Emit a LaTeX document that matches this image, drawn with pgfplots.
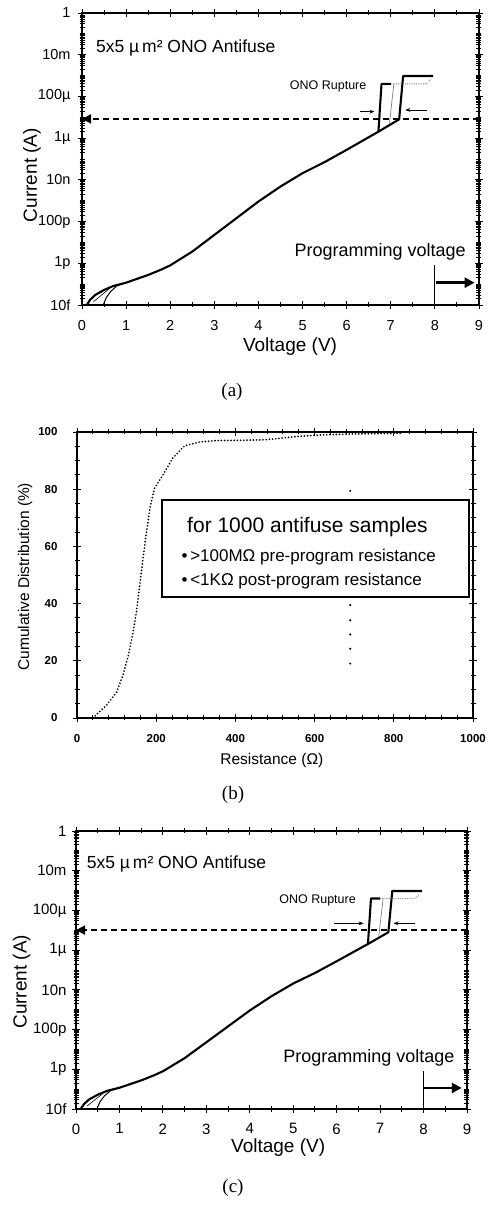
\documentclass[border=0pt]{standalone}
\usepackage{fontspec}
\setmainfont{Liberation Sans}
\newfontfamily\capfont{Liberation Serif}
\usepackage{pgfplots}
\usepackage{pgfplotstable}
\pgfplotsset{compat=1.18}
\usetikzlibrary{arrows.meta}

% minor ticks of a log axis drawn as log10 values
\def\logminor{}
\foreach \d in {-14,...,-1}{\foreach \m in {0.301,0.477,0.602,0.699,0.778,0.845,0.903,0.954}{%
  \pgfmathparse{\d+\m}\xdef\logminor{\logminor\pgfmathresult,}}}
\xdef\logminor{\logminor -13,-11,-9,-7,-5,-3,-1}

% I-V sweep, log10 of current
\pgfplotstableread{
V logI
0.11 -14.0
0.18 -13.76
0.30 -13.52
0.50 -13.28
0.71 -13.09
1.00 -12.93
1.50 -12.56
1.80 -12.30
2.00 -12.10
2.50 -11.44
3.00 -10.64
3.50 -9.84
4.00 -9.04
4.50 -8.32
5.00 -7.68
5.50 -7.15
6.00 -6.56
6.72 -5.69
6.79 -3.40
7.00 -3.40
}\ivmain
\pgfplotstableread{
V logI
6.72 -5.69
7.19 -5.10
7.28 -3.02
7.96 -3.02
}\ivlate
\pgfplotstableread{
V logI
0.48 -14.0
0.55 -13.65
0.65 -13.35
0.80 -13.07
1.00 -12.93
}\ivstart
\pgfplotstableread{
R P
40 0
74 4.4
100 9
116 15
130 22
141 29.6
150 37
158 45.9
166 55
175 64.6
185 74
196 80.4
217 85
242 90.9
272 95.2
310 96.5
352 97.0
420 97.1
478 97.3
562 98.5
620 99.0
697 99.3
823 99.6
}\cdf

\pgfplotsset{
  ivstyle/.style={
    scale only axis, anchor=south west, clip=false,
    xmin=0, xmax=9, ymin=-14, ymax=0,
    xtick={0,...,9}, minor x tick num=1,
    ytick={-14,-12,...,0},
    yticklabels={10f,1p,100p,10n,1µ,100µ,10m,1},
    minor ytick/.expanded={\logminor},
    axis line style={line width=1.3pt},
    tick style={black, line width=0.9pt},
    major tick length=8pt, minor tick length=5pt, tick align=center,
    /pgf/number format/assume math mode=true,
    xlabel={Voltage (V)}, ylabel={Current (A)},
    label style={font=\fontsize{19}{22}\selectfont, anchor=center},
  },
  curve/.style={black, line width=2.1pt, line join=round},
}

\begin{document}
\begin{tikzpicture}
\useasboundingbox (0pt,0pt) rectangle (488pt,1206pt);

% ---------- (a) ----------
\begin{axis}[ivstyle, at={(82pt,901pt)}, width=397pt, height=292pt,
  ticklabel style={font=\fontsize{14.5}{16}\selectfont},
  xticklabel style={yshift=-8pt}, yticklabel style={xshift=-4pt},
  xlabel style={at={(axis description cs:0.524,-0.144)}},
  ylabel style={at={(axis description cs:-0.126,0.445)}}]
\addplot[curve] table[x=V, y=logI] {\ivmain};
\addplot[curve] table[x=V, y=logI] {\ivlate};
\addplot[black, line width=1pt] table[x=V, y=logI] {\ivstart};
\addplot[black, line width=0.6pt] coordinates {(0.26,-13.84) (0.63,-13.2)};
\addplot[gray, line width=0.7pt] coordinates {(6.97,-5.29) (7.07,-3.40)};
\addplot[gray, line width=0.8pt, densely dotted] coordinates {(7.00,-3.40) (7.81,-3.40) (7.90,-3.18)};
\addplot[black, line width=1.7pt, dash pattern=on 6pt off 4pt, -{Triangle[length=9pt,width=9pt]}]
  coordinates {(9,-5.08) (0,-5.08)};
\addplot[black, line width=0.6pt, -{Stealth[length=5pt]}] coordinates {(6.30,-4.73) (6.63,-4.73)};
\addplot[black, line width=0.6pt, -{Stealth[length=5pt]}] coordinates {(7.81,-4.65) (7.33,-4.65)};
\addplot[black, line width=0.8pt] coordinates {(8,-14) (8,-12.08)};
\addplot[black, line width=2.8pt, -{Triangle[length=10pt,width=10pt]}] coordinates {(8.02,-12.93) (8.9,-12.93)};
\node[anchor=west, font=\fontsize{17.5}{20}\selectfont] at (axis cs:0.24,-1.68) {5x5 µ\,m² ONO Antifuse};
\node[font=\fontsize{12.5}{14}\selectfont] at (axis cs:5.58,-3.52) {ONO Rupture};
\node[anchor=east, font=\fontsize{18}{20}\selectfont] at (axis cs:8.78,-11.44) {Programming voltage};
\end{axis}
\node[font=\capfont\fontsize{19}{22}\selectfont] at (232pt,814pt) {(a)};

% ---------- (b) ----------
\begin{axis}[scale only axis, anchor=south west, at={(77pt,488pt)},
  width=396pt, height=286pt,
  xmin=0, xmax=1000, ymin=0, ymax=100,
  xtick={0,200,...,1000}, ytick={0,20,...,100},
  minor x tick num=4, minor y tick num=3,
  axis line style={line width=1.2pt},
  tick style={black, line width=0.9pt},
  major tick length=8pt, minor tick length=5pt, tick align=center,
  /pgf/number format/assume math mode=true,
  /pgf/number format/1000 sep={},
  ticklabel style={font=\bfseries\fontsize{11.5}{13}\selectfont},
  xticklabel style={yshift=-9pt}, yticklabel style={xshift=-12pt},
  xlabel={Resistance (Ω)}, ylabel={Cumulative Distribution (\%)},
  label style={font=\fontsize{15.5}{18}\selectfont, anchor=center},
  xlabel style={at={(axis description cs:0.492,-0.150)}},
  ylabel style={at={(axis description cs:-0.131,0.494)}}]
\addplot[black, line width=1.9pt, line cap=round, dash pattern=on 0pt off 3.2pt]
  table[x=R, y=P] {\cdf};
\addplot[only marks, mark=*, mark size=0.8pt, black] coordinates {
  (690,19) (690,24.2) (690,29.2) (690,34.2) (690,39.5) (690,79.4)};
\draw[black, fill=white, line width=1.3pt] (axis cs:215,42.3) rectangle (axis cs:990,76.2);
\node[font=\fontsize{21}{24}\selectfont] at (axis cs:582,66.9) {for 1000 antifuse samples};
\node[anchor=west, font=\fontsize{17}{20}\selectfont] at (axis cs:255,56.4) {•\,>100MΩ pre-program resistance};
\node[anchor=west, font=\fontsize{17}{20}\selectfont] at (axis cs:255,47.9) {•\,<1KΩ post-program resistance};
\end{axis}
\node[font=\capfont\fontsize{19}{22}\selectfont] at (233pt,411pt) {(b)};

% ---------- (c) ----------
\begin{axis}[ivstyle, at={(76pt,97pt)}, width=391pt, height=278pt,
  ticklabel style={font=\fontsize{15}{17}\selectfont},
  xticklabel style={yshift=-7pt}, yticklabel style={xshift=-2pt},
  xlabel style={at={(axis description cs:0.517,-0.140)}},
  ylabel style={at={(axis description cs:-0.139,0.458)}}]
\addplot[curve] table[x=V, y=logI] {\ivmain};
\addplot[curve] table[x=V, y=logI] {\ivlate};
\addplot[black, line width=1pt] table[x=V, y=logI] {\ivstart};
\addplot[black, line width=0.6pt] coordinates {(0.26,-13.84) (0.63,-13.2)};
\addplot[gray, line width=0.7pt] coordinates {(6.97,-5.29) (7.07,-3.40)};
\addplot[gray, line width=0.8pt, densely dotted] coordinates {(7.00,-3.40) (7.81,-3.40) (7.90,-3.18)};
\addplot[black, line width=1.7pt, dash pattern=on 6pt off 4pt, -{Triangle[length=9pt,width=9pt]}]
  coordinates {(9,-4.99) (0,-4.99)};
\addplot[black, line width=0.6pt, -{Stealth[length=5pt]}] coordinates {(5.93,-4.65) (6.62,-4.65)};
\addplot[black, line width=0.6pt, -{Stealth[length=5pt]}] coordinates {(7.81,-4.65) (7.31,-4.65)};
\addplot[black, line width=0.8pt] coordinates {(8,-14) (8,-12.1)};
\addplot[black, line width=2.8pt, -{Triangle[length=10pt,width=10pt]}] coordinates {(8.02,-12.94) (8.88,-12.94)};
\node[anchor=west, font=\fontsize{17.5}{20}\selectfont] at (axis cs:0.17,-1.64) {5x5 µ\,m² ONO Antifuse};
\node[font=\fontsize{12.5}{14}\selectfont] at (axis cs:5.56,-3.48) {ONO Rupture};
\node[anchor=east, font=\fontsize{18}{20}\selectfont] at (axis cs:8.79,-11.44) {Programming voltage};
\end{axis}
\node[font=\capfont\fontsize{19}{22}\selectfont] at (233pt,18pt) {(c)};
\end{tikzpicture}
\end{document}
